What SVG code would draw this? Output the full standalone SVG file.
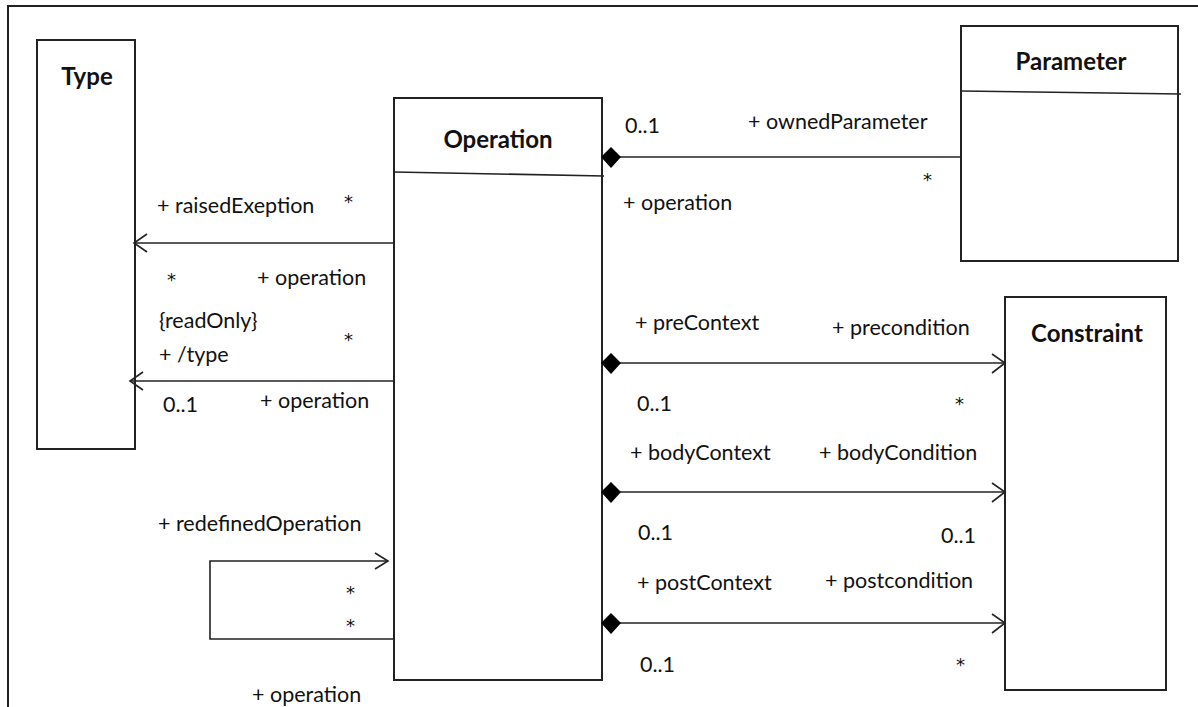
<svg xmlns="http://www.w3.org/2000/svg" width="1198" height="707" viewBox="0 0 1198 707">
<style>
.box{fill:#fff;stroke:#222;stroke-width:2}
.ln{fill:none;stroke:#222;stroke-width:1.6}
.ah{fill:none;stroke:#222;stroke-width:1.6}
.dia{fill:#000}
.t{font-family:Lato,"Liberation Sans",sans-serif;font-size:21.5px;fill:#111}
.s{font-family:"DejaVu Sans",sans-serif;font-size:18px;fill:#111}
.b{font-family:Lato,"Liberation Sans",sans-serif;font-size:24px;font-weight:bold;fill:#111;text-anchor:middle}
</style>
<rect width="1198" height="707" fill="#fff"/>
<path d="M8,707 V6 H1198" fill="none" stroke="#222" stroke-width="2"/>
<g id="type">
<rect class="box" x="37" y="40" width="98" height="409"/>
<text class="b" x="87" y="85">Type</text>
</g>
<g id="operation">
<rect class="box" x="394" y="98" width="208" height="582"/>
<line class="ln" x1="394" y1="172" x2="604" y2="176"/>
<text class="b" x="498" y="148">Operation</text>
</g>
<g id="parameter">
<rect class="box" x="961" y="26" width="217" height="235"/>
<line class="ln" x1="961" y1="91" x2="1181" y2="94"/>
<text class="b" x="1071" y="70">Parameter</text>
</g>
<g id="constraint">
<rect class="box" x="1005" y="297" width="161" height="393"/>
<text class="b" x="1087" y="342">Constraint</text>
</g>
<g id="connectors">
<line class="ln" x1="394" y1="243" x2="134" y2="243"/>
<path class="ah" d="M147,234 L134,243 L147,252"/>
<line class="ln" x1="394" y1="381" x2="130" y2="381"/>
<path class="ah" d="M143,372 L130,381 L143,390"/>
<path class="ln" d="M394,639 H210 V561 H388"/>
<path class="ah" d="M375,553 L388,561 L375,569"/>
<line class="ln" x1="620" y1="157" x2="961" y2="157"/>
<path class="dia" d="M601,157 L611,147 L621,157 L611,168 Z"/>
<line class="ln" x1="620" y1="363" x2="1005" y2="363"/>
<path class="dia" d="M601,363 L611,353 L621,363 L611,374 Z"/>
<path class="ah" d="M992,354 L1005,363 L992,373"/>
<line class="ln" x1="620" y1="492" x2="1005" y2="492"/>
<path class="dia" d="M601,492 L611,482 L621,492 L611,503 Z"/>
<path class="ah" d="M992,483 L1005,492 L992,502"/>
<line class="ln" x1="620" y1="623" x2="1005" y2="623"/>
<path class="dia" d="M601,623 L611,613 L621,623 L611,634 Z"/>
<path class="ah" d="M992,614 L1005,623 L992,633"/>
</g>
<g id="labels">
<text class="t" x="157" y="213">+ raisedExeption</text>
<text class="s" x="344" y="208">*</text>
<text class="s" x="167" y="286">*</text>
<text class="t" x="257" y="285">+ operation</text>
<text class="t" x="159" y="328">{readOnly}</text>
<text class="t" x="159" y="362">+ /type</text>
<text class="s" x="344" y="346">*</text>
<text class="t" x="163" y="412">0..1</text>
<text class="t" x="260" y="408">+ operation</text>
<text class="t" x="158" y="531">+ redefinedOperation</text>
<text class="s" x="346" y="599">*</text>
<text class="s" x="346" y="632">*</text>
<text class="t" x="252" y="702">+ operation</text>
<text class="t" x="625" y="133">0..1</text>
<text class="t" x="748" y="129">+ ownedParameter</text>
<text class="s" x="923" y="186">*</text>
<text class="t" x="623" y="210">+ operation</text>
<text class="t" x="635" y="330">+ preContext</text>
<text class="t" x="832" y="335">+ precondition</text>
<text class="t" x="637" y="411">0..1</text>
<text class="s" x="955" y="410">*</text>
<text class="t" x="630" y="460">+ bodyContext</text>
<text class="t" x="819" y="460">+ bodyCondition</text>
<text class="t" x="638" y="540">0..1</text>
<text class="t" x="941" y="543">0..1</text>
<text class="t" x="637" y="590">+ postContext</text>
<text class="t" x="825" y="588">+ postcondition</text>
<text class="t" x="640" y="672">0..1</text>
<text class="s" x="956" y="671">*</text>
</g>
</svg>
